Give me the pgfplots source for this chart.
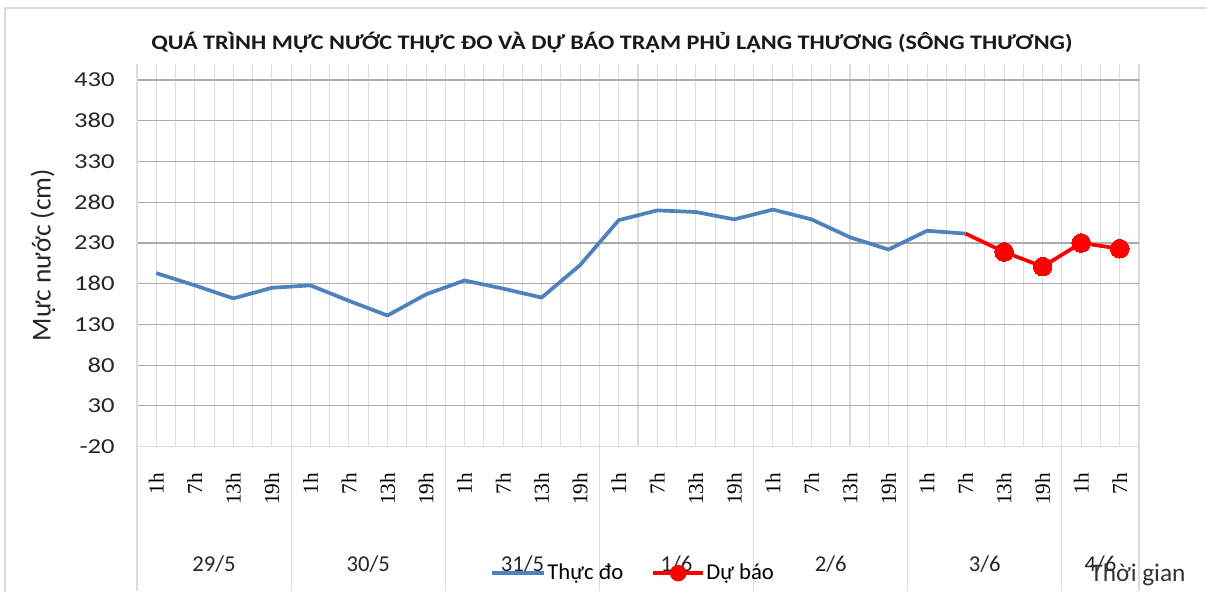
\documentclass[border=0pt]{standalone}
\usepackage{pgfplots}
\pgfplotsset{compat=1.18}
\usepackage{fontspec}
\setmainfont{Carlito}
\newfontfamily\wide[FakeStretch=1.17]{Carlito}
\newfontfamily\widetick[FakeStretch=1.25]{Carlito}
\newfontfamily\serifnum{Liberation Serif}
\definecolor{bl}{HTML}{4F81BD}
\definecolor{rd}{HTML}{FF0000}
\definecolor{gridv}{HTML}{DCDCDC}
\definecolor{gridh}{HTML}{ABABAB}
\begin{document}
\begin{tikzpicture}
\begin{scope}[x=0.75pt,y=-0.75pt]
\path[use as bounding box] (0,0) rectangle (1207,590);
\draw[gridv, line width=1.5pt] (5,600) -- (5,8) -- (1215,8);
\coordinate (O) at (137,446.7);
\end{scope}
\begin{axis}[
  at={(O)}, anchor=south west,
  scale only axis,
  width=751.5pt, height=287.25pt,
  xmin=-0.5, xmax=25.5, ymin=-20, ymax=450,
  axis x line*=bottom, axis y line*=left,
  axis line style={gridv, line width=0.8pt},
  xtick={0,...,25},
  minor xtick={-0.5,0.5,...,25.5},
  xticklabels={1h,7h,13h,19h,1h,7h,13h,19h,1h,7h,13h,19h,1h,7h,13h,19h,1h,7h,13h,19h,1h,7h,13h,19h,1h,7h},
  xticklabel style={yshift=-19.5pt, rotate=90, anchor=east, inner sep=0pt, font=\serifnum\fontsize{16}{16}\selectfont},
  ytick={-20,30,...,430},
  yticklabel style={xshift=-16.5pt, anchor=east, inner sep=0pt, font=\widetick\fontsize{16}{16}\selectfont, text=black!85},
  /pgf/number format/assume math mode=true,
  major tick length=0pt, minor tick length=0pt,
  xmajorgrids, xminorgrids, ymajorgrids,
  major x grid style={gridv, line width=0.8pt},
  minor x grid style={gridv, line width=0.8pt},
  major y grid style={gridh, line width=0.8pt},
  clip=false,
  title={QUÁ TRÌNH MỰC NƯỚC THỰC ĐO VÀ DỰ BÁO TRẠM PHỦ LẠNG THƯƠNG (SÔNG THƯƠNG)},
  title style={at={(axis description cs:0.5,1)}, anchor=center, xshift=-19.5pt, yshift=9.8pt, font=\wide\bfseries\fontsize{15.5}{15.5}\selectfont, text=black!90},
  ylabel={Mực nước (cm)},
  ylabel style={at={(axis description cs:0,0.5)}, anchor=center, yshift=70.5pt, font=\fontsize{20.5}{20.5}\selectfont, text=black!85},
  xlabel={Thời gian},
  xlabel style={at={(axis description cs:1,0)}, anchor=center, xshift=-0.75pt, yshift=-96pt, font=\fontsize{19}{19}\selectfont, text=black!80},
  legend style={at={(axis description cs:0.352,-0.33)}, anchor=west, draw=none, fill=none, inner sep=0pt,
    legend columns=2, font=\fontsize{17}{17}\selectfont,
    nodes={inner sep=1.5pt},
    /tikz/every even column/.append style={column sep=20pt}},
]
\addplot[bl, line width=2.8pt, line join=round,
  legend image code/.code={\draw[bl, line width=2.6pt] (0pt,0pt) -- (39pt,0pt);}]
  coordinates {(0,193) (1,178) (2,162) (3,175) (4,178) (5,159) (6,141) (7,167) (8,184) (9,174) (10,163) (11,203) (12,258) (13,270) (14,268) (15,259) (16,271) (17,259) (18,237) (19,222) (20,245) (21,241.5)};
\addlegendentry{Thực đo}
\addplot[rd, line width=2.8pt, line join=round, mark=*, mark size=7pt, mark indices={2,3,4,5}, mark options={fill=rd, draw=rd, line width=0pt},
  legend image code/.code={\draw[rd, line width=2.4pt] (0pt,0pt) -- (37pt,0pt); \fill[rd] (18.5pt,0pt) circle (4.8pt);}]
  coordinates {(21,241.5) (22,219) (23,201) (24,230) (25,223)};
\addlegendentry{Dự báo}
\foreach \xx in {-0.5,3.5,7.5,11.5,15.5,19.5,23.5,25.5}{
  \edef\temp{\noexpand\draw[gridv, line width=0.8pt] (axis cs:\xx,-20) -- ++(0pt,-108pt);}\temp
}
\node[font=\fontsize{17}{17}\selectfont, text=black!85] at (axis cs:1.5,-20) [yshift=-88pt] {29/5};
\node[font=\fontsize{17}{17}\selectfont, text=black!85] at (axis cs:5.5,-20) [yshift=-88pt] {30/5};
\node[font=\fontsize{17}{17}\selectfont, text=black!85] at (axis cs:9.5,-20) [yshift=-88pt] {31/5};
\node[font=\fontsize{17}{17}\selectfont, text=black!85] at (axis cs:13.5,-20) [yshift=-88pt] {1/6};
\node[font=\fontsize{17}{17}\selectfont, text=black!85] at (axis cs:17.5,-20) [yshift=-88pt] {2/6};
\node[font=\fontsize{17}{17}\selectfont, text=black!85] at (axis cs:21.5,-20) [yshift=-88pt] {3/6};
\node[font=\fontsize{17}{17}\selectfont, text=black!85] at (axis cs:24.5,-20) [yshift=-88pt] {4/6};
\end{axis}
\end{tikzpicture}
\end{document}
